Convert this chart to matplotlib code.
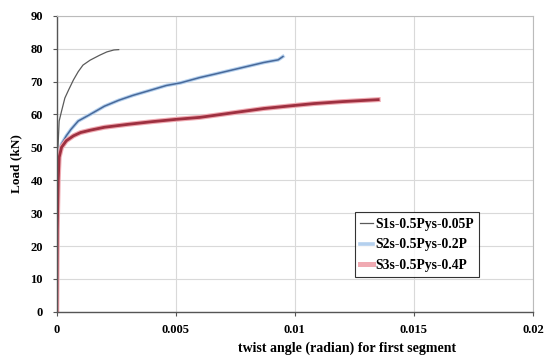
import matplotlib
matplotlib.use("Agg")
import matplotlib.pyplot as plt

s1_x = [0, 0.00002, 0.00005, 0.0001, 0.0002, 0.00034, 0.0005, 0.0007, 0.0009,
        0.0011, 0.0014, 0.0018, 0.0021, 0.0024, 0.0026]
s1_y = [0, 30, 50, 58, 61, 65, 67.5, 70.5, 73, 75, 76.5, 78, 79, 79.6, 79.7]

s2_x = [0, 0.00003, 0.00008, 0.0002, 0.0004, 0.0006, 0.0009, 0.0014, 0.002,
        0.0026, 0.0032, 0.004, 0.0046, 0.0052, 0.006, 0.0066, 0.0073, 0.008,
        0.0087, 0.009, 0.0093, 0.0095]
s2_y = [0, 30, 48, 51, 53.5, 55.5, 58, 60, 62.5, 64.3, 65.8, 67.5, 68.8, 69.6,
        71.2, 72.2, 73.4, 74.6, 75.8, 76.2, 76.6, 77.6]

s3_x = [0, 0.00002, 0.00006, 0.0001, 0.0002, 0.0004, 0.0007, 0.001, 0.0014,
        0.002, 0.003, 0.004, 0.005, 0.006, 0.007, 0.0087, 0.0098, 0.0108,
        0.012, 0.0135]
s3_y = [0, 25, 40, 47, 50, 52, 53.5, 54.5, 55.2, 56.1, 57, 57.8, 58.5, 59.1,
        60.1, 61.8, 62.6, 63.3, 63.9, 64.5]

labels = ["S1s-0.5Pys-0.05P", "S2s-0.5Pys-0.2P", "S3s-0.5Pys-0.4P"]
x_ticks = [0, 0.005, 0.01, 0.015, 0.02]
x_tick_labels = ["0", "0.005", "0.01", "0.015", "0.02"]
y_ticks = list(range(0, 91, 10))

plt.rcParams["font.family"] = ["Liberation Serif", "DejaVu Serif"]
plt.rcParams["font.weight"] = "bold"

fig = plt.figure(figsize=(5.46, 3.58), dpi=100)
ax = fig.add_axes([0.104, 0.129, 0.872, 0.827])

# halo (lighter, wider) lines carry the legend entries
ax.plot(s1_x, s1_y, color="#5a5a5a", lw=0.9, label=labels[0])
ax.plot(s2_x, s2_y, color="#b4d0ee", lw=2.6, label=labels[1])
ax.plot(s2_x, s2_y, color="#48699a", lw=1.1)
ax.plot(s3_x, s3_y, color="#f0aab2", lw=3.6, label=labels[2])
ax.plot(s3_x, s3_y, color="#9e3040", lw=2.0)

ax.set_xlim(0, 0.02)
ax.set_ylim(0, 90)
ax.set_xticks(x_ticks)
ax.set_xticklabels(x_tick_labels)
ax.set_yticks(y_ticks)
ax.tick_params(labelsize=9, length=3, width=0.8, color="#555555")
ax.tick_params(axis="y", pad=7)
ax.tick_params(axis="x", pad=6)
ax.grid(True, color="#d9d9d9", lw=0.8)
ax.set_axisbelow(True)
for side in ["top", "right"]:
    ax.spines[side].set_color("#bbbbbb")
for side in ["left", "bottom"]:
    ax.spines[side].set_color("#555555")
    ax.spines[side].set_linewidth(1.0)

ax.set_xlabel("twist angle (radian) for first segment", fontsize=10,
              fontweight="bold", labelpad=4)
ax.xaxis.label.set_x(0.61)
ax.set_ylabel("Load (kN)", fontsize=9.5, fontweight="bold", labelpad=6)

leg = ax.legend(loc="upper left", bbox_to_anchor=(0.626, 0.336), fontsize=9.8,
                frameon=True, fancybox=False, edgecolor="black",
                handlelength=0.9, handletextpad=0.2, borderpad=0.4,
                labelspacing=0.55, borderaxespad=0)
leg.get_frame().set_linewidth(0.8)

fig.savefig("out.png", dpi=100)
